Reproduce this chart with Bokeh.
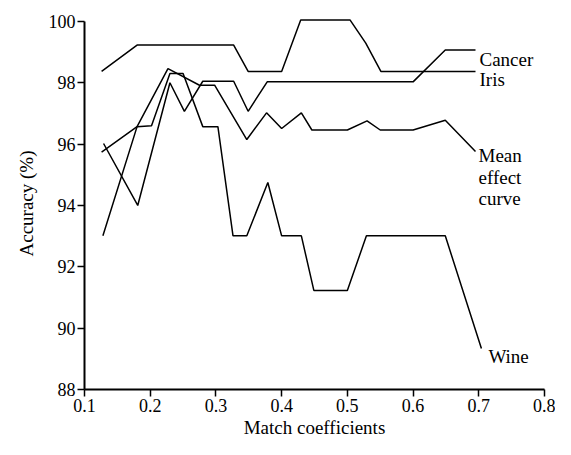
from bokeh.plotting import figure
from bokeh.models import Range1d, FixedTicker, Title
from bokeh.core.properties import value
from bokeh.embed import file_html
from bokeh.resources import INLINE

# ---- data ----
x_ticks = [0.1, 0.2, 0.3, 0.4, 0.5, 0.6, 0.7, 0.8]
x_tick_labels = ["0.1", "0.2", "0.3", "0.4", "0.5", "0.6", "0.7", "0.8"]
y_ticks = [88, 90, 92, 94, 96, 98, 100]
y_tick_labels = ["88", "90", "92", "94", "96", "98", "100"]

iris_x = [0.126, 0.180, 0.327, 0.349, 0.400, 0.429, 0.504, 0.528, 0.551, 0.695]
iris_y = [98.37, 99.23, 99.23, 98.37, 98.37, 100.05, 100.05, 99.29, 98.37, 98.37]

cancer_x = [0.129, 0.181, 0.230, 0.252, 0.280, 0.327, 0.349, 0.378, 0.600, 0.649, 0.695]
cancer_y = [96.02, 94.00, 98.00, 97.07, 98.05, 98.05, 97.07, 98.03, 98.03, 99.07, 99.07]

mean_x = [0.126, 0.180, 0.227, 0.275, 0.298, 0.347, 0.377, 0.400, 0.430, 0.446,
          0.500, 0.530, 0.550, 0.600, 0.649, 0.695]
mean_y = [95.74, 96.57, 98.46, 97.92, 97.92, 96.15, 97.02, 96.51, 97.02, 96.46,
          96.46, 96.76, 96.46, 96.46, 96.78, 95.76]

wine_x = [0.128, 0.180, 0.202, 0.230, 0.250, 0.280, 0.303, 0.326, 0.347, 0.379,
          0.400, 0.430, 0.449, 0.500, 0.529, 0.649, 0.704]
wine_y = [93.01, 96.57, 96.60, 98.30, 98.30, 96.57, 96.57, 93.01, 93.01, 94.75,
          93.01, 93.01, 91.23, 91.23, 93.01, 93.01, 89.34]

x_title = "Match coefficients"
y_title = "Accuracy (%)"

FONT = "'Liberation Serif', 'Times New Roman', serif"

p = figure(width=555, height=439, output_backend="svg", toolbar_location=None,
           x_range=Range1d(0.1, 0.8), y_range=Range1d(88, 100.128),
           min_border_left=84, min_border_right=11, min_border_top=17,
           min_border_bottom=50)
p.outline_line_color = None
p.grid.visible = False
p.background_fill_color = "white"
p.border_fill_color = "white"

for ax, ticks, labels in ((p.xaxis[0], x_ticks, x_tick_labels),
                          (p.yaxis[0], y_ticks, y_tick_labels)):
    ax.ticker = FixedTicker(ticks=ticks)
    ax.major_label_overrides = dict(zip(ticks, labels))
    ax.axis_line_width = 2
    ax.axis_line_color = "black"
    ax.major_tick_line_width = 1.5
    ax.major_tick_line_color = "black"
    ax.major_tick_out = 7
    ax.major_tick_in = 0
    ax.minor_tick_out = 0
    ax.minor_tick_in = 0
    ax.major_label_text_font = FONT
    ax.major_label_text_font_size = "18px"
    ax.major_label_text_color = "black"
    ax.major_label_standoff = 2
p.yaxis[0].bounds = (88, 100)

xtitle = Title(text=x_title, align="center", offset=12, standoff=0,
               text_font=FONT, text_font_size="19px", text_font_style="normal",
               text_color="black")
p.add_layout(xtitle, "below")

ytitle = Title(text=y_title, align="center", offset=22, standoff=17,
               text_font=FONT, text_font_size="19px", text_font_style="normal",
               text_color="black")
p.add_layout(ytitle, "left")

for xs, ys in ((iris_x, iris_y), (cancer_x, cancer_y), (mean_x, mean_y), (wine_x, wine_y)):
    p.line(xs, ys, line_color="black", line_width=1.5)

def end_label(xs, ys, txt, dx, dy):
    p.text(x=[xs[-1]], y=[ys[-1]], text=[txt], x_offset=dx, y_offset=dy,
           text_baseline="alphabetic", text_align="left",
           text_font=value(FONT), text_font_size=value("19px"), text_color="black")

end_label(cancer_x, cancer_y, "Cancer", 4, 10)
end_label(iris_x, iris_y, "Iris", 4, 8)
for i, word in enumerate(["Mean", "effect", "curve"]):
    end_label(mean_x, mean_y, word, 3, 4.5 + 21.5 * i)
end_label(wine_x, wine_y, "Wine", 7, 8)

open("out.html", "w").write(file_html(p, INLINE))
